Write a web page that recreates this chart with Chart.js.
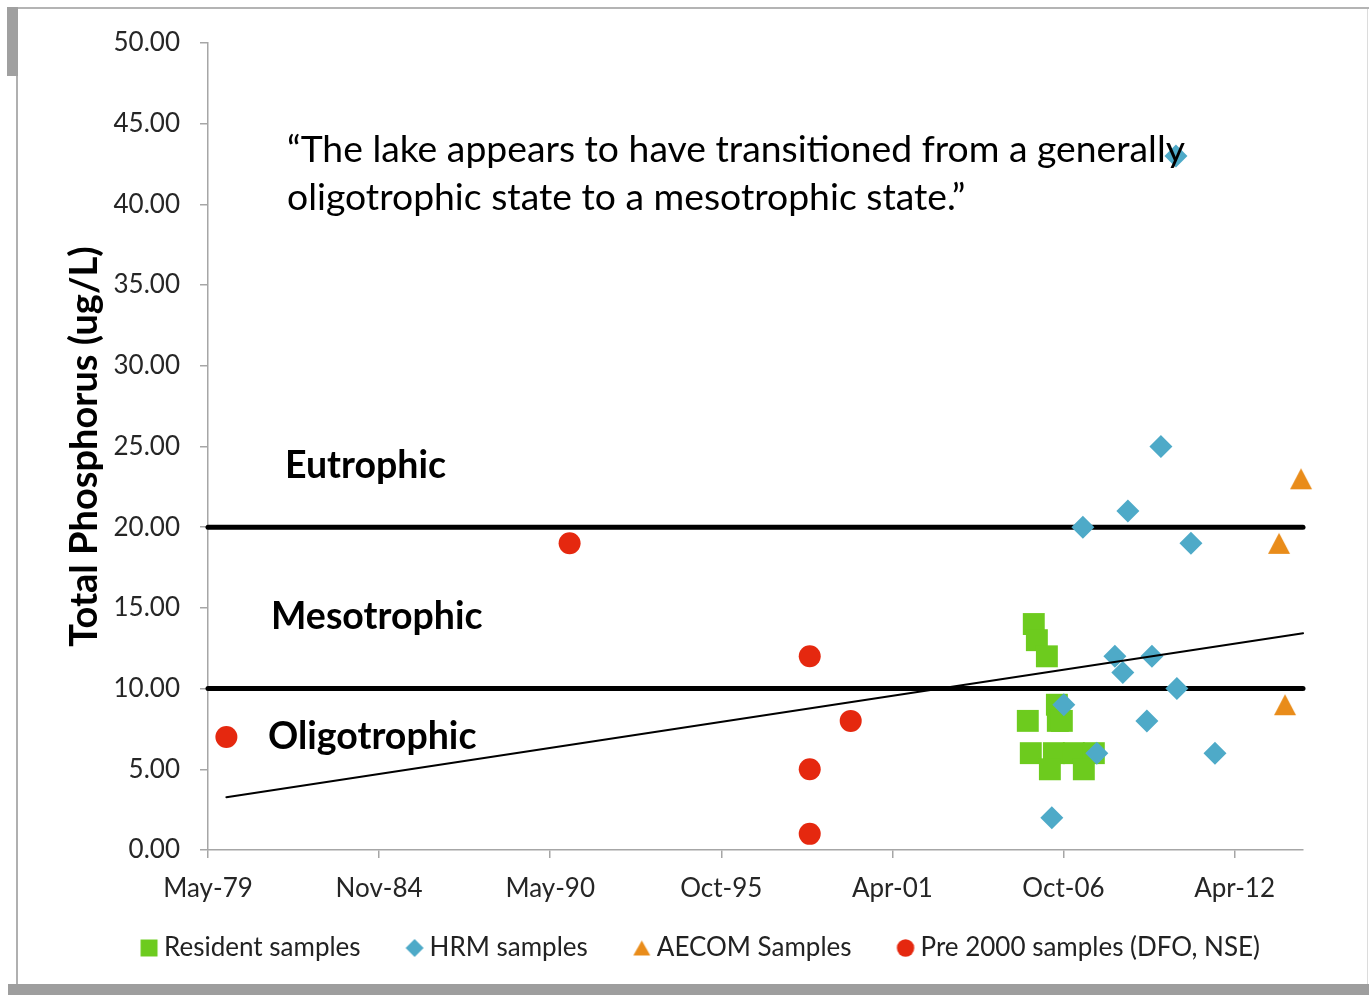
<!DOCTYPE html>
<html><head><meta charset="utf-8">
<script src="https://cdn.jsdelivr.net/npm/chart.js@4.4.0/dist/chart.umd.min.js"></script>
<style>
html,body{margin:0;padding:0;background:#fff;}
#wrap{position:relative;width:1369px;height:995px;overflow:hidden;background:#fff;}
canvas{position:absolute;left:0;top:0;}
.f{position:absolute;}
</style></head><body>
<div id="wrap">
<canvas id="c" width="1369" height="995"></canvas>
<div class="f" style="left:8px;top:7px;width:1361px;height:2px;background:#b4b4b4"></div>
<div class="f" style="left:7px;top:7px;width:11px;height:69px;background:#a0a0a0"></div>
<div class="f" style="left:16px;top:76px;width:2px;height:910px;background:#b0b0b0"></div>
<div class="f" style="left:8px;top:984px;width:1361px;height:11px;background:#9e9e9e"></div>
<div class="f" style="left:1367px;top:9px;width:1px;height:975px;background:#dcdcdc"></div>
</div>
<script>
// ---- data (x = Excel date serial, y = total phosphorus ug/L) ----
const xTickValues = [29000, 31000, 33000, 35000, 37000, 39000, 41000];
const xTickLabels = ['May-79', 'Nov-84', 'May-90', 'Oct-95', 'Apr-01', 'Oct-06', 'Apr-12'];
const xAxisMin = 29000;
const xAxisMax = 41800;
const yAxisMin = 0;
const yAxisMax = 50;
const yAxisStep = 5;

const residentDates = [38653, 38689, 38806, 38923, 38583, 38934, 38981, 38618, 38888, 39121, 39355, 38841, 39238];
const residentTP    = [14, 13, 12, 9, 8, 8, 8, 6, 6, 6, 6, 5, 5];

const hrmDates = [40315, 40139, 39227, 39753, 40490, 39601, 40034, 39694, 40326, 39004, 39975, 39390, 40771, 38864];
const hrmTP    = [43, 25, 20, 21, 19, 12, 12, 11, 10, 9, 8, 6, 6, 2];

const aecomDates = [41777, 41520, 41590];
const aecomTP    = [23, 19, 9];

const pre2000Dates = [29215, 33227, 36034, 36034, 36034, 36513];
const pre2000TP    = [7, 19, 12, 5, 1, 8];

const trendDates = [29215, 41801];
const trendTP    = [3.27, 13.43];

const boundaryDates     = [29000, 41800];
const eutrophicLimit    = [20, 20];
const oligotrophicLimit = [10, 10];

const seriesNames = ['Resident samples', 'HRM samples', 'AECOM Samples', 'Pre 2000 samples (DFO, NSE)'];
const quoteLines = ['\u201CThe lake appears to have transitioned from a generally', 'oligotrophic state to a mesotrophic state.\u201D'];
const zoneLabels = ['Eutrophic', 'Mesotrophic', 'Oligotrophic'];
const yTitle = 'Total Phosphorus (ug/L)';

// ---- helpers ----
const pts = (xs, ys) => xs.map((x, i) => ({x: x, y: ys[i]}));
const FONT = 'Lato, "Open Sans", sans-serif';
const GREEN = '#6dcb1e', BLUE = '#4eaac8', ORANGE = '#e98c1a', RED = '#e5280f';
const seriesColors = [GREEN, BLUE, ORANGE, RED];
const seriesStyles = ['rect', 'rectRot', 'triangle', 'circle'];
const legendMarkerRadius = [12, 9, 0, 8.7];

const legendShift = {x: 19, y: -23};

// Excel-like triangle: bounding box centred on the point
function triangleImage(w, h, color) {
  const c = document.createElement('canvas');
  c.width = Math.ceil(w) + 2; c.height = Math.ceil(h) + 2;
  const ctx = c.getContext('2d');
  const cx = c.width / 2, cy = c.height / 2;
  ctx.fillStyle = color;
  ctx.beginPath();
  ctx.moveTo(cx, cy - h / 2);
  ctx.lineTo(cx + w / 2, cy + h / 2);
  ctx.lineTo(cx - w / 2, cy + h / 2);
  ctx.closePath();
  ctx.fill();
  return c;
}
function markerImage(style, radius, color) {
  const c = document.createElement('canvas');
  c.width = 26; c.height = 26;
  const ctx = c.getContext('2d');
  ctx.fillStyle = color;
  Chart.helpers.drawPoint(ctx, {pointStyle: style, radius: radius, rotation: 0, borderWidth: 0}, 13, 13);
  return c;
}
const chartTriangle = triangleImage(22, 21, ORANGE);
const legendMarkers = seriesStyles.map((s, i) =>
  s === 'triangle' ? triangleImage(17, 15, seriesColors[i]) : markerImage(s, legendMarkerRadius[i], seriesColors[i]));

const annotationPlugin = {
  id: 'annot',
  afterDatasetsDraw(chart) {
    const ctx = chart.ctx;
    ctx.save();
    ctx.fillStyle = '#000';
    ctx.textBaseline = 'middle';
    ctx.textAlign = 'left';
    ctx.font = '37.3px ' + FONT;
    ctx.fillText(quoteLines[0], 287, 150);
    ctx.fillText(quoteLines[1], 287, 198);
    ctx.font = 'bold 37.5px ' + FONT;
    ctx.fillText(zoneLabels[0], 285, 466);
    ctx.fillText(zoneLabels[1], 271, 617);
    ctx.fillText(zoneLabels[2], 268, 737);
    ctx.restore();
  }
};

const legendShiftPlugin = {
  id: 'legendShift',
  afterLayout(chart) {
    const lg = chart.legend;
    if (!lg) return;
    lg.left += legendShift.x; lg.right += legendShift.x;
    lg.top += legendShift.y; lg.bottom += legendShift.y;
  }
};

const scatterDs = (label, xs, ys, color, style, radius, order) => ({
  label: label,
  data: pts(xs, ys),
  backgroundColor: color,
  borderColor: color,
  borderWidth: 0,
  pointStyle: style,
  pointRadius: radius,
  pointHoverRadius: radius,
  showLine: false,
  clip: false,
  order: order
});

const lineDs = (label, xs, ys, width, order) => ({
  label: label,
  data: pts(xs, ys),
  borderColor: '#000',
  backgroundColor: '#000',
  borderWidth: width,
  borderCapStyle: 'round',
  pointRadius: 0,
  showLine: true,
  fill: false,
  clip: false,
  order: order
});

const defaultLabels = Chart.defaults.plugins.legend.labels.generateLabels;

new Chart(document.getElementById('c'), {
  type: 'scatter',
  data: {
    datasets: [
      scatterDs(seriesNames[0], residentDates, residentTP, GREEN, 'rect', 15.5, 2),
      scatterDs(seriesNames[1], hrmDates, hrmTP, BLUE, 'rectRot', 11.5, 1),
      scatterDs(seriesNames[2], aecomDates, aecomTP, ORANGE, chartTriangle, 11, 3),
      scatterDs(seriesNames[3], pre2000Dates, pre2000TP, RED, 'circle', 11, 4),
      lineDs('Eutrophic limit', boundaryDates, eutrophicLimit, 5, 6),
      lineDs('Oligotrophic limit', boundaryDates, oligotrophicLimit, 5, 6),
      lineDs('Trend', trendDates, trendTP, 2, 0)
    ]
  },
  options: {
    responsive: false,
    animation: false,
    layout: {padding: {left: 0, right: 0, top: 43, bottom: 1}},
    plugins: {
      tooltip: {enabled: false},
      legend: {
        position: 'bottom',
        labels: {
          usePointStyle: true,
          boxWidth: 4,
          boxHeight: 14,
          padding: 52,
          color: '#222',
          font: {family: FONT, size: 26},
          generateLabels: (chart) => defaultLabels(chart)
            .filter(item => item.datasetIndex < 4)
            .sort((a, b) => a.datasetIndex - b.datasetIndex)
            .map(item => Object.assign(item, {pointStyle: legendMarkers[item.datasetIndex], rotation: 0}))
        }
      }
    },
    scales: {
      x: {
        type: 'linear',
        min: xAxisMin,
        max: xAxisMax,
        afterBuildTicks: (scale) => { scale.ticks = xTickValues.map(v => ({value: v})); },
        afterFit: (scale) => { scale.height = 56; },
        ticks: {
          autoSkip: false,
          maxRotation: 0,
          padding: 15,
          color: '#262626',
          font: {family: FONT, size: 26},
          callback: (v) => xTickLabels[xTickValues.indexOf(v)]
        },
        grid: {drawOnChartArea: false, drawTicks: true, tickLength: 8, color: '#a6a6a6', lineWidth: 1.5},
        border: {color: '#a6a6a6', width: 1.5}
      },
      y: {
        min: yAxisMin,
        max: yAxisMax,
        afterFit: (scale) => { scale.width = 208; },
        ticks: {
          stepSize: yAxisStep,
          padding: 20,
          color: '#262626',
          font: {family: FONT, size: 26},
          callback: (v) => v.toFixed(2)
        },
        title: {
          display: true,
          text: yTitle,
          color: '#000',
          font: {family: FONT, size: 38, weight: 'bold'},
          padding: {top: 62, bottom: 0}
        },
        grid: {drawOnChartArea: false, drawTicks: true, tickLength: 8, color: '#a6a6a6', lineWidth: 1.5},
        border: {color: '#a6a6a6', width: 1.5}
      },
      rightSpace: {
        type: 'linear',
        position: 'right',
        display: true,
        afterFit: (scale) => { scale.width = 66; },
        ticks: {display: false},
        grid: {display: false},
        border: {display: false}
      }
    }
  },
  plugins: [annotationPlugin, legendShiftPlugin]
});
</script>
</body></html>
